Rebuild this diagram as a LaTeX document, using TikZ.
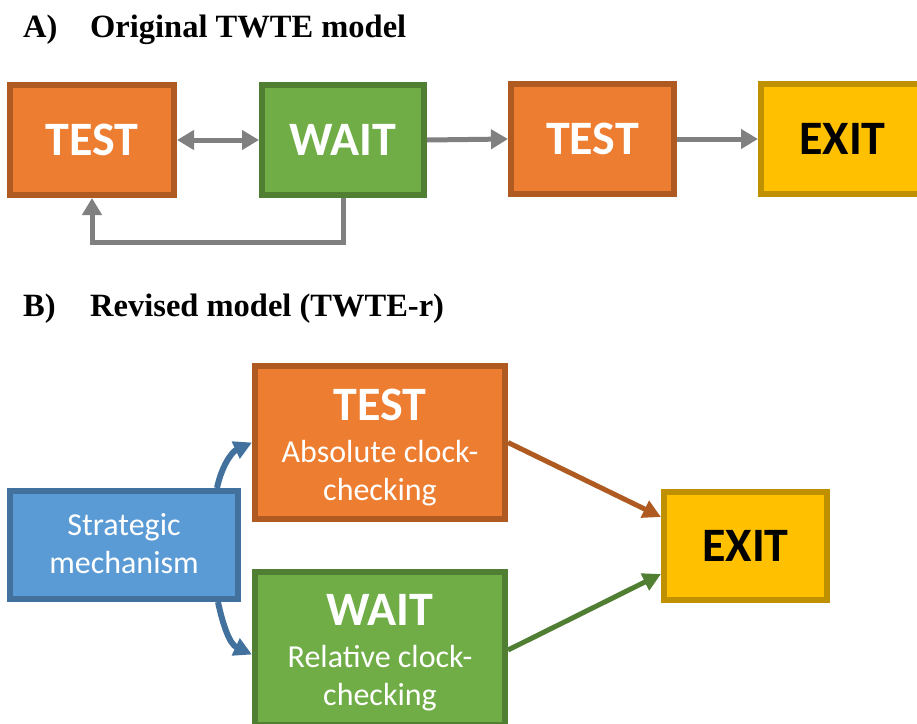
\documentclass[tikz,border=0pt]{standalone}
\usepackage{fontspec}
\setmainfont{Carlito}
\newfontfamily\titlefont{Liberation Serif}
\usetikzlibrary{arrows.meta}
\definecolor{orfill}{HTML}{ED7D31}
\definecolor{ordraw}{HTML}{AE5A21}
\definecolor{grfill}{HTML}{70AD47}
\definecolor{grdraw}{HTML}{507E32}
\definecolor{yefill}{HTML}{FFC000}
\definecolor{yedraw}{HTML}{BF9000}
\definecolor{blfill}{HTML}{5B9BD5}
\definecolor{bldraw}{HTML}{41719C}
\definecolor{grayarrow}{HTML}{808080}
\tikzset{
  box/.style={rectangle, line width=6pt, inner sep=0pt},
  orbox/.style={box, fill=orfill, draw=ordraw},
  grbox/.style={box, fill=grfill, draw=grdraw},
  yebox/.style={box, fill=yefill, draw=yedraw},
  blbox/.style={box, fill=blfill, draw=bldraw},
  bigtxt/.style={font=\fontsize{48}{48}\selectfont\bfseries, inner sep=0pt},
  smalltxt/.style={font=\fontsize{32}{38}\selectfont, inner sep=0pt, text=white, align=center},
  titletxt/.style={font=\titlefont\fontsize{32.5}{32.5}\selectfont\bfseries, inner sep=0pt, anchor=base west},
  garrow/.style={draw=grayarrow, line width=5pt, -{Triangle[length=17pt,width=19pt]}},
  garrowd/.style={draw=grayarrow, line width=5pt, {Triangle[length=17pt,width=19pt]}-{Triangle[length=17pt,width=19pt]}},
  carrow/.style={line width=5pt, -{Triangle[length=18pt,width=18pt]}},
}
\begin{document}
\begin{tikzpicture}[x=1pt,y=-1pt]
\useasboundingbox (0,0) rectangle (917,723);
\begin{scope}
\clip (0,0) rectangle (917,723);
% Titles
\node[titletxt] (ta) at (23,37) {A)};
\node[titletxt] (tat) at (90,37) {Original TWTE model};
\node[titletxt] (tb) at (23,316) {B)};
\node[titletxt] (tbt) at (90,316) {Revised model (TWTE-r)};

% Part A
\node[orbox, minimum width=164pt, minimum height=110pt] (T1) at (92,140) {};
\node[grbox, minimum width=162pt, minimum height=110pt] (W1) at (343,140) {};
\node[orbox, minimum width=163pt, minimum height=110pt] (T2) at (592.5,139) {};
\node[yebox, minimum width=163pt, minimum height=110pt] (E1) at (842.5,139) {};
\node[bigtxt, text=white] (T1t) at (T1.center) {TEST};
\node[bigtxt, text=white] (W1t) at (W1.center) {WAIT};
\node[bigtxt, text=white] (T2t) at (T2.center) {TEST};
\node[bigtxt, text=black] (E1t) at (E1.center) {EXIT};

\draw[garrowd] (T1.east) -- (W1.west);
\draw[garrow] (W1.east) -- (T2.west);
\draw[garrow] (T2.east) -- (E1.west);
\draw[garrow, line join=miter] (W1.south) -- ++(0,44) -| (T1.south);

% Part B
\node[blbox, minimum width=228pt, minimum height=108pt] (S) at (124,545) {};
\node[orbox, minimum width=250pt, minimum height=153pt] (T3) at (380,442.5) {};
\node[grbox, minimum width=250pt, minimum height=153pt] (W3) at (380,648.5) {};
\node[yebox, minimum width=163pt, minimum height=108pt] (E3) at (745.5,546) {};

\node[smalltxt, anchor=base] (St) at (124,573) {Strategic\\mechanism};
\node[bigtxt, text=white, anchor=base] (T3a) at (380,420) {TEST};
\node[smalltxt, anchor=base] (T3b) at (380,500) {Absolute clock-\\checking};
\node[bigtxt, text=white, anchor=base] (W3a) at (380,625) {WAIT};
\node[smalltxt, anchor=base] (W3b) at (380,705) {Relative clock-\\checking};
\node[bigtxt, text=black] (E3t) at (E3.center) {EXIT};

\draw[carrow, draw=bldraw, line width=6pt] ([xshift=93pt]S.north) to[out=78,in=205] (T3.west);
\draw[carrow, draw=bldraw, line width=6pt] ([xshift=94pt]S.south) to[out=-78,in=155] ([yshift=-6pt]W3.west);
\draw[carrow, draw=ordraw] (T3.east) -- ([yshift=29pt]E3.west);
\draw[carrow, draw=grdraw] ([yshift=-1.5pt]W3.east) -- ([yshift=-28pt]E3.west);
\end{scope}
\end{tikzpicture}
\end{document}
